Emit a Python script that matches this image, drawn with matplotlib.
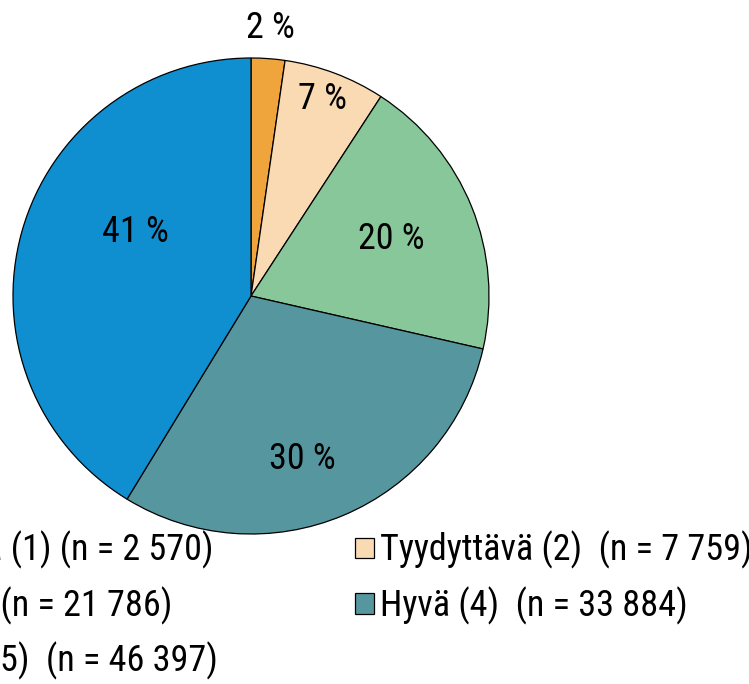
import numpy as np
import matplotlib
matplotlib.use("Agg")
from matplotlib import pyplot as plt

# values
labels = ["Hyvin välttävä (1) (n = 2 570)",
          "Tyydyttävä (2)  (n = 7 759)",
          "Keskitaso (3) (n = 21 786)",
          "Hyvä (4)  (n = 33 884)",
          "Erinomainen (5)  (n = 46 397)"]
counts = [2570, 7759, 21786, 33884, 46397]
pct_labels = ["2 %", "7 %", "20 %", "30 %", "41 %"]
colors = ["#F0A43C", "#F9DAB3", "#88C79A", "#56979F", "#0F8ED0"]

# label placement (fraction of radius, angle nudge in degrees)
label_dist = [1.14, 0.89, 0.64, 0.71, 0.56]
label_nudge = [0, 1, 1, -5, -14]

FONT = ["Roboto Condensed", "Liberation Sans", "DejaVu Sans"]
FS = 26

W, H = 749, 684
fig = plt.figure(figsize=(W / 100, H / 100), dpi=100)
ax = fig.add_axes([0, 0, 1, 1])

cx, cy, r = 251, H - 296, 238
wedges, _ = ax.pie(counts, colors=colors, startangle=90, counterclock=False,
                   center=(cx, cy), radius=r,
                   wedgeprops=dict(edgecolor="black", linewidth=0.9))

for w, t, d, nd in zip(wedges, pct_labels, label_dist, label_nudge):
    ang = np.deg2rad((w.theta1 + w.theta2) / 2 + nd)
    ax.text(cx + d * r * np.cos(ang), cy + d * r * np.sin(ang) - 2.5, t,
            ha="center", va="center", fontsize=FS, family=FONT)

ax.set_xlim(0, W)
ax.set_ylim(0, H)
ax.set_aspect("auto")
ax.axis("off")

leg_kw = dict(frameon=False, borderpad=0, borderaxespad=0,
              handlelength=0.53, handleheight=0.5, handletextpad=0.15,
              labelspacing=0.47, prop=dict(family=FONT, size=FS))
left_idx = [0, 2, 4]
right_idx = [1, 3]
leg1 = ax.legend([wedges[i] for i in left_idx], [labels[i] for i in left_idx],
                 loc="upper right", bbox_to_anchor=(218, H - 531),
                 bbox_transform=ax.transData, **leg_kw)
ax.add_artist(leg1)
leg2 = ax.legend([wedges[i] for i in right_idx], [labels[i] for i in right_idx],
                 loc="upper left", bbox_to_anchor=(355, H - 531),
                 bbox_transform=ax.transData, **leg_kw)
for leg in (leg1, leg2):
    for h in leg.legend_handles:
        h.set_linewidth(0.9)

fig.savefig("out.png", dpi=100)
